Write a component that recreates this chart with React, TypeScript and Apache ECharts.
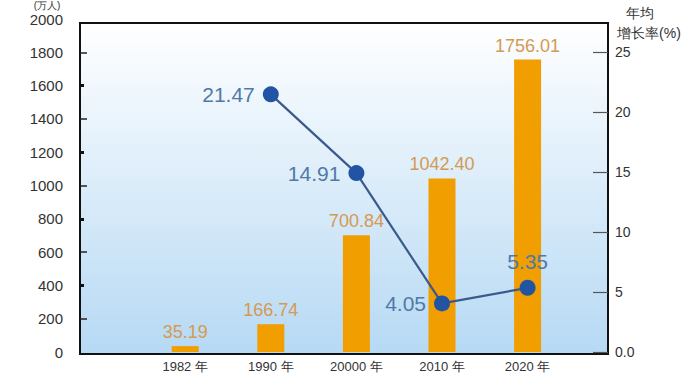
import React, { useEffect, useRef } from "react";
import * as echarts from "echarts";

const categories = ["1982 年", "1990 年", "20000 年", "2010 年", "2020 年"];
const populationValues = [35.19, 166.74, 700.84, 1042.4, 1756.01];
const growthRates: (number | null)[] = [null, 21.47, 14.91, 4.05, 5.35];
const leftTickLong = [200, 600, 1000, 1400, 1800];
const leftTickShort = [400, 800, 1200, 1600];
const rightTicks = [0, 5, 10, 15, 20, 25];

const FONT = "'Liberation Sans', Arial, sans-serif";

export default function App() {
  const ref = useRef<HTMLDivElement>(null);
  useEffect(() => {
    if (!ref.current) return;
    const chart = echarts.init(ref.current, undefined, { renderer: "svg" });
    const lastIdx = growthRates.length - 1;
    chart.setOption({
      animation: false,
      textStyle: { fontFamily: FONT },
      grid: { left: 142.4, right: 116.6, top: 19, bottom: 38 },
      graphic: [
        {
          type: "rect",
          z: -100,
          shape: { x: 80, y: 23, width: 528, height: 331 },
          style: {
            fill: new echarts.graphic.LinearGradient(0, 0, 0, 1, [
              { offset: 0, color: "#FFFFFF" },
              { offset: 1, color: "#B6D9F4" },
            ]),
            stroke: "#111",
            lineWidth: 2,
          },
        },
        {
          type: "text",
          x: 47,
          y: 0.5,
          style: {
            text: "(万人)",
            fontSize: 10,
            lineHeight: 10,
            fill: "#333",
            align: "center",
            verticalAlign: "top",
            fontFamily: FONT,
          },
        },
        {
          type: "text",
          x: 640,
          y: 13,
          style: { text: "年均", fontSize: 14, fill: "#333", align: "center", verticalAlign: "middle", fontFamily: FONT },
        },
        {
          type: "text",
          x: 649,
          y: 33,
          style: { text: "增长率(%)", fontSize: 14, fill: "#333", align: "center", verticalAlign: "middle", fontFamily: FONT },
        },
      ],
      xAxis: {
        type: "category",
        data: categories,
        axisLine: { show: false },
        axisTick: { show: false },
        axisLabel: { color: "#333", fontSize: 13, margin: 8, fontFamily: FONT },
      },
      yAxis: [
        {
          type: "value",
          position: "left",
          offset: 62.4,
          min: 0,
          max: 2000,
          interval: 200,
          axisLine: { show: false },
          axisTick: {
            show: true,
            inside: true,
            length: 7,
            customValues: leftTickLong,
            lineStyle: { color: "#222", width: 1.5 },
          },
          splitLine: { show: false },
          axisLabel: {
            color: "#333",
            fontSize: 15,
            margin: 17,
            fontFamily: FONT,
            formatter: (v: number) => String(v),
          },
        },
        {
          type: "value",
          position: "right",
          offset: 37.6,
          min: 0,
          max: 27.75,
          interval: 5,
          axisLine: { show: false },
          axisTick: {
            show: true,
            inside: true,
            length: 15,
            customValues: rightTicks,
            lineStyle: { color: "#555", width: 1.2 },
          },
          splitLine: { show: false },
          axisLabel: {
            customValues: rightTicks,
            color: "#333",
            fontSize: 14,
            margin: 7,
            fontFamily: FONT,
            formatter: (v: number) => (v === 0 ? "0.0" : String(v)),
          },
        },
        {
          type: "value",
          position: "left",
          offset: 62.4,
          min: 0,
          max: 2000,
          interval: 200,
          axisLine: { show: false },
          axisLabel: { show: false },
          splitLine: { show: false },
          axisTick: {
            show: true,
            inside: true,
            length: 4,
            customValues: leftTickShort,
            lineStyle: { color: "#111", width: 3 },
          },
        },
      ],
      series: [
        {
          type: "bar",
          yAxisIndex: 0,
          data: populationValues,
          barWidth: 27,
          itemStyle: { color: "#F09E00" },
          label: {
            show: true,
            position: "top",
            distance: 5,
            color: "#D49A52",
            fontSize: 18,
            fontFamily: FONT,
            formatter: (p: any) => Number(p.value).toFixed(2),
          },
        },
        {
          type: "line",
          yAxisIndex: 1,
          connectNulls: false,
          data: growthRates.map((v, i) =>
            v === null
              ? null
              : { value: v, label: { position: i === lastIdx ? "top" : "left", distance: 8 } }
          ),
          symbol: "circle",
          symbolSize: 16,
          lineStyle: { color: "#3A5A8C", width: 2.2 },
          itemStyle: { color: "#2155A3" },
          label: {
            show: true,
            color: "#5079A8",
            fontSize: 21,
            fontFamily: FONT,
            formatter: (p: any) => Number(p.value).toFixed(2),
          },
          z: 5,
        },
      ],
    });
    return () => chart.dispose();
  }, []);
  return (
    <div
      ref={ref}
      style={{ position: "fixed", left: 0, top: 0, width: 687, height: 390, background: "#fff" }}
    />
  );
}
